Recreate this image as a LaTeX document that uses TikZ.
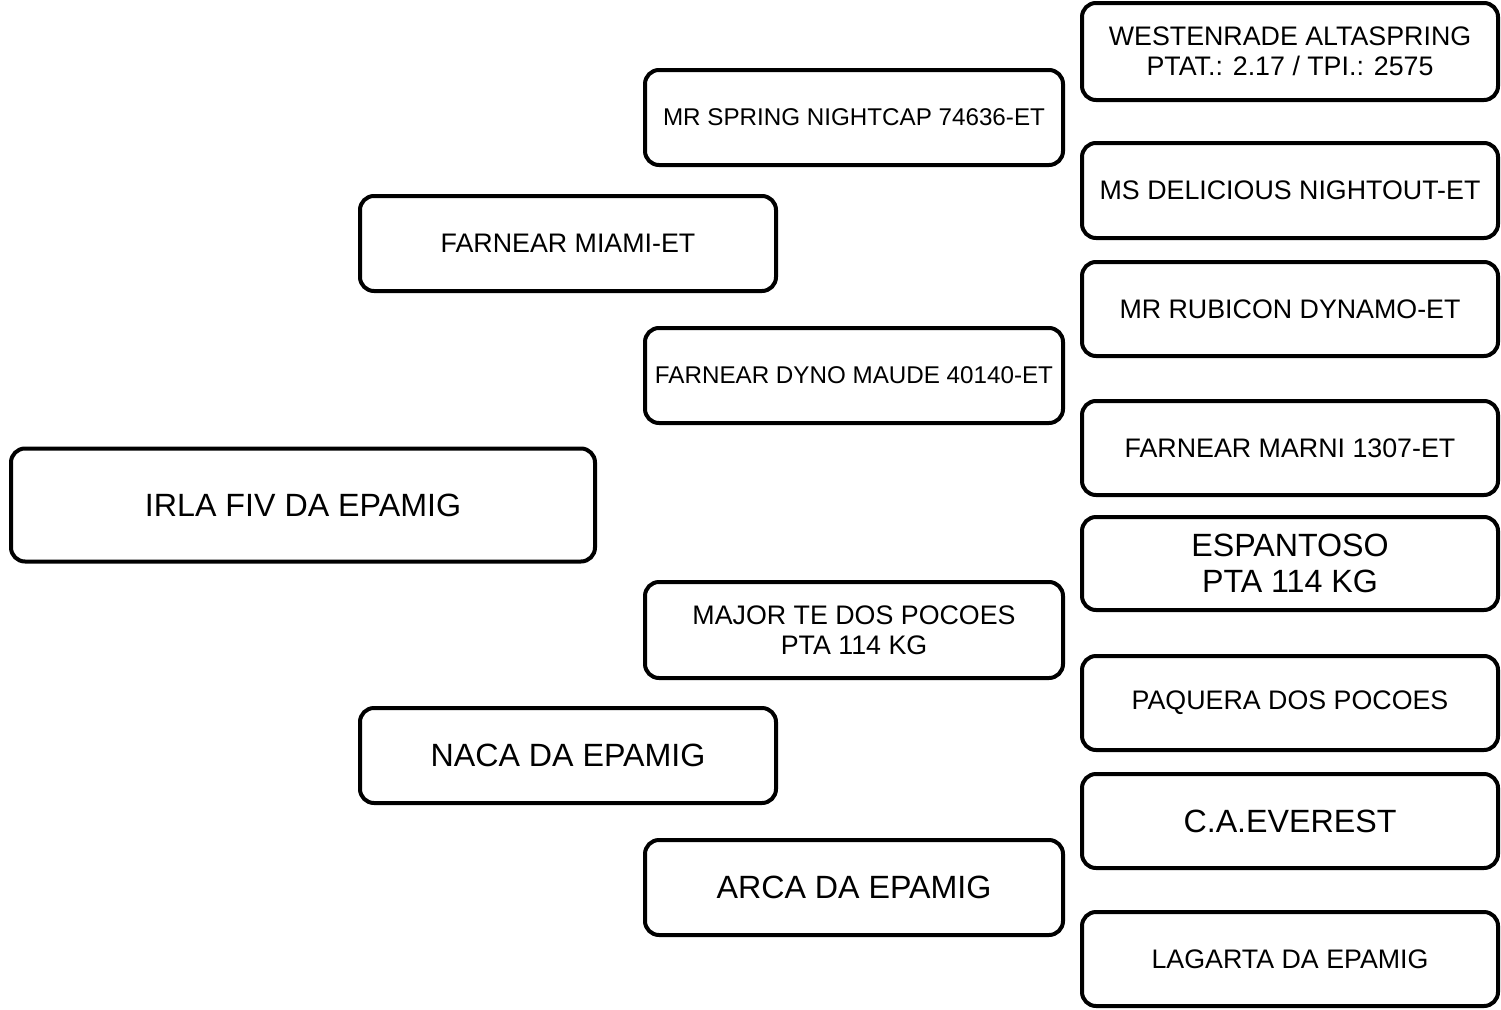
\documentclass[tikz,border=0pt]{standalone}
\usepackage{fontspec}
\setmainfont{Liberation Sans}
\begin{document}
\begin{tikzpicture}[x=1pt,y=-1pt,
  box/.style={draw=black, line width=4pt, rounded corners=14pt, fill=white,
    align=center, inner sep=0pt, font=\fontsize{26.8}{30}\selectfont},
  smalltext/.style={font=\fontsize{24.2}{30}\selectfont},
  bigtext/.style={font=\fontsize{32.2}{36}\selectfont},
  colw/.style={minimum width=418pt},
  rcolw/.style={minimum width=416pt}]
\useasboundingbox[fill=white] (0,0) rectangle (1501,1009);
% generation 0
\node[box, bigtext, minimum width=584pt, minimum height=113pt] (irla) at (303,505) {IRLA FIV DA EPAMIG};
% generation 1
\node[box, minimum width=416pt, minimum height=95pt] (miami) at (568,243.5) {FARNEAR MIAMI-ET};
\node[box, bigtext, minimum width=416pt, minimum height=95pt] (naca) at (568,755.5) {NACA DA EPAMIG};
% generation 2
\node[box, smalltext, colw, minimum height=95pt] (nightcap) at (854,117.5) {MR SPRING NIGHTCAP 74636-ET};
\node[box, smalltext, colw, minimum height=95pt] (dyno) at (854,375.5) {FARNEAR DYNO MAUDE 40140-ET};
\node[box, colw, minimum height=96pt] (major) at (854,630) {MAJOR TE DOS POCOES\\PTA 114 KG};
\node[box, bigtext, colw, minimum height=95pt] (arca) at (854,887.5) {ARCA DA EPAMIG};
% generation 3
\node[box, rcolw, minimum height=97pt] (west) at (1290,51.5) {WESTENRADE ALTASPRING\\PTAT.: 2.17 / TPI.: 2575};
\node[box, rcolw, minimum height=95pt] (delicious) at (1290,190.5) {MS DELICIOUS NIGHTOUT-ET};
\node[box, rcolw, minimum height=94pt] (rubicon) at (1290,309) {MR RUBICON DYNAMO-ET};
\node[box, rcolw, minimum height=94pt] (marni) at (1290,448) {FARNEAR MARNI 1307-ET};
\node[box, bigtext, rcolw, minimum height=93pt] (espantoso) at (1290,563.5) {ESPANTOSO\\PTA 114 KG};
\node[box, rcolw, minimum height=94pt] (paquera) at (1290,703) {PAQUERA DOS POCOES};
\node[box, bigtext, rcolw, minimum height=94pt] (everest) at (1290,821) {C.A.EVEREST};
\node[box, rcolw, minimum height=94pt] (lagarta) at (1290,959) {LAGARTA DA EPAMIG};
\end{tikzpicture}
\end{document}
